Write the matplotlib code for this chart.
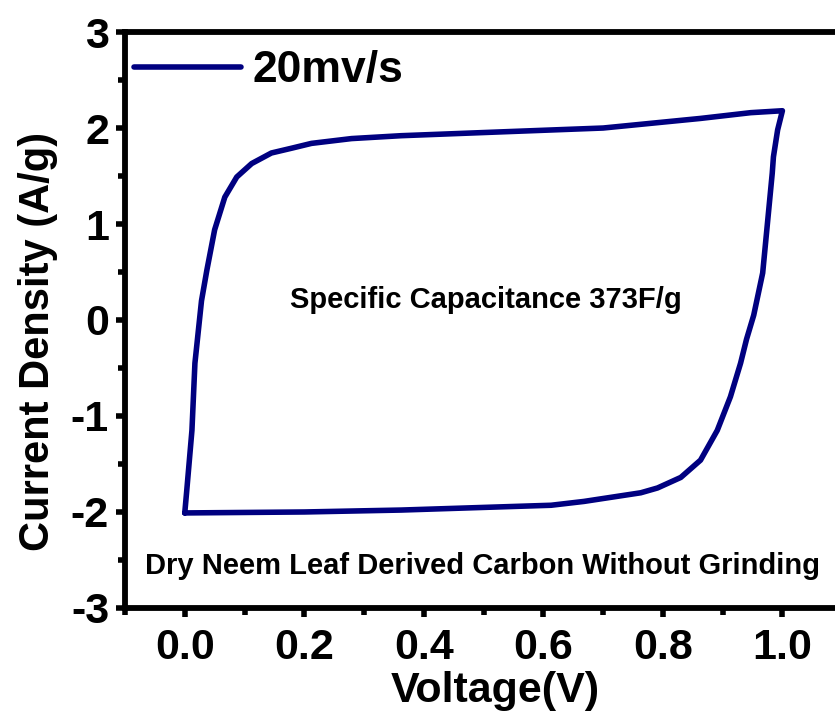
import matplotlib.pyplot as plt
from matplotlib.ticker import MultipleLocator

# CV loop at 20 mV/s
voltage = [0.0, 0.003, 0.012, 0.017, 0.028, 0.037, 0.050, 0.067, 0.087, 0.112,
           0.145, 0.179, 0.212, 0.279, 0.362, 0.53, 0.70, 0.863, 0.947, 1.0,
           0.992, 0.985, 0.983, 0.975, 0.967, 0.952, 0.940, 0.930, 0.913,
           0.891, 0.863, 0.830, 0.791, 0.763, 0.668, 0.613, 0.362, 0.2, 0.0]
current = [-2.01, -1.8, -1.15, -0.45, 0.20, 0.52, 0.94, 1.28, 1.49, 1.63,
           1.74, 1.79, 1.84, 1.89, 1.92, 1.96, 2.0, 2.10, 2.16, 2.18,
           1.98, 1.70, 1.53, 1.01, 0.49, 0.05, -0.20, -0.45, -0.80,
           -1.15, -1.46, -1.64, -1.75, -1.80, -1.89, -1.93, -1.98, -2.0, -2.01]

x_ticks = [0.0, 0.2, 0.4, 0.6, 0.8, 1.0]
y_ticks = [-3, -2, -1, 0, 1, 2, 3]

plt.rcParams["font.family"] = ["Liberation Sans", "DejaVu Sans"]
plt.rcParams["font.weight"] = "bold"

fig = plt.figure(figsize=(8.35, 7.15), dpi=100)
ax = fig.add_axes([0.1497, 0.1497, 0.8503, 0.8055])

ax.plot(voltage, current, color="#000080", linewidth=4, label="20mv/s",
        solid_capstyle="round", solid_joinstyle="round")

ax.set_xlim(-0.1, 1.088)
ax.set_ylim(-3, 3)
ax.set_xticks(x_ticks)
ax.set_yticks(y_ticks)
ax.set_xticklabels([f"{v:.1f}" for v in x_ticks])
ax.set_yticklabels([str(v) for v in y_ticks])
ax.xaxis.set_minor_locator(MultipleLocator(0.1))
ax.yaxis.set_minor_locator(MultipleLocator(0.5))

ax.spines["right"].set_visible(False)
for side in ["left", "top", "bottom"]:
    ax.spines[side].set_linewidth(4.2)
ax.tick_params(which="major", length=6.5, width=4, labelsize=31, pad=5)
ax.tick_params(axis="x", which="major", pad=8)
ax.tick_params(which="minor", length=5, width=4)
ax.tick_params(axis="x", which="both", top=False)

# reference crops the x label at the bottom edge; keep it just inside instead
ax.set_xlabel("Voltage(V)", fontsize=31, fontweight="bold")
ax.set_ylabel("Current Density (A/g)", fontsize=30, fontweight="bold")
ax.xaxis.set_label_coords(0.521, -0.11)
ax.yaxis.set_label_coords(-0.095, 0.462)

ax.text(0.504, 0.21, "Specific Capacitance 373F/g", fontsize=21,
        fontweight="bold", ha="center", va="center")
ax.text(0.498, -2.56, "Dry Neem Leaf Derived Carbon Without Grinding", fontsize=21,
        fontweight="bold", ha="center", va="center")

leg = ax.legend(loc="upper left", frameon=False, fontsize=32, handlelength=2.4,
                handletextpad=0.25, borderpad=0.1, borderaxespad=0,
                bbox_to_anchor=(0.007, 0.976))

fig.savefig("out.png", dpi=100)
